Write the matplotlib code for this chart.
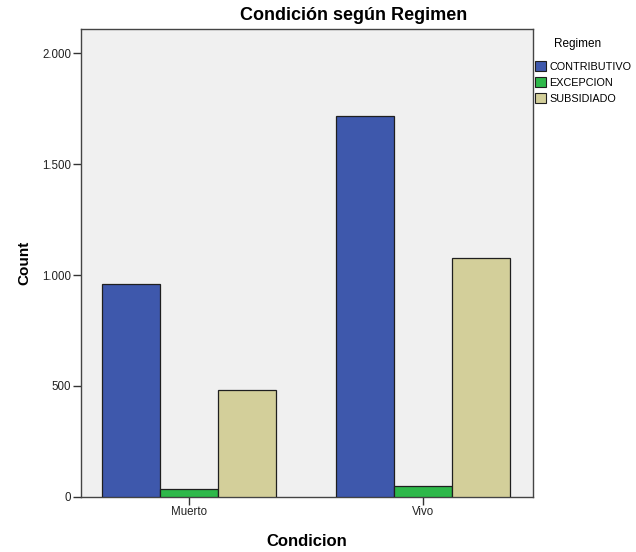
import matplotlib.pyplot as plt
import numpy as np

plt.rcParams['font.family'] = ['Liberation Sans', 'DejaVu Sans']

condiciones = ['Muerto', 'Vivo']
regimenes = ['CONTRIBUTIVO', 'EXCEPCION', 'SUBSIDIADO']
contributivo = [958, 1718]
excepcion = [35, 48]
subsidiado = [481, 1075]
colores = ['#3E58AC', '#2EB84A', '#D3CF9A']

fig = plt.figure(figsize=(6.36, 5.52), dpi=100)
ax = fig.add_axes([0.127, 0.1002, 0.7106, 0.8473])
ax.set_facecolor('#F0F0F0')

x = np.arange(len(condiciones))
ancho = 0.248
for i, (serie, color, nombre) in enumerate(zip([contributivo, excepcion, subsidiado], colores, regimenes)):
    ax.bar(x + (i - 1) * ancho, serie, width=ancho, color=color, edgecolor='#1f1f1f',
           linewidth=0.9, label=nombre, zorder=3)

ax.set_xlim(-0.464, 1.467)
ax.set_ylim(0, 2110)
ax.set_xticks(x)
ax.set_xticklabels(condiciones)
ax.set_yticks([0, 500, 1000, 1500, 2000])
ax.set_yticklabels(['0', '500', '1.000', '1.500', '2.000'])
ax.tick_params(axis='both', labelsize=8.3, length=5.5, width=1, color='#333333', labelcolor='#222222', pad=1.5)

for s in ax.spines.values():
    s.set_color('#444444')
    s.set_linewidth(1)

ax.set_xlabel('Condicion', fontsize=12, fontweight='bold', labelpad=11)
ax.set_ylabel('Count', fontsize=11, fontweight='bold', labelpad=8)

fig.text(354 / 636, 1 - 16 / 552, 'Condición según Regimen', fontsize=13, fontweight='bold',
         ha='center', va='center')

# leyenda con el título aparte, encima de las entradas
fig.text(578 / 636, 1 - 44 / 552, 'Regimen', fontsize=8.5, ha='center', va='center')
leg = fig.legend(loc='upper left', bbox_to_anchor=(535 / 636, 1 - 61.5 / 552), frameon=False,
                 fontsize=7.8, handlelength=1.0, handleheight=1.0, handletextpad=0.3,
                 labelspacing=0.5, borderaxespad=0, borderpad=0)
for h in leg.legend_handles:
    h.set_edgecolor('#1f1f1f')
    h.set_linewidth(0.8)

fig.savefig('out.png', dpi=100)
